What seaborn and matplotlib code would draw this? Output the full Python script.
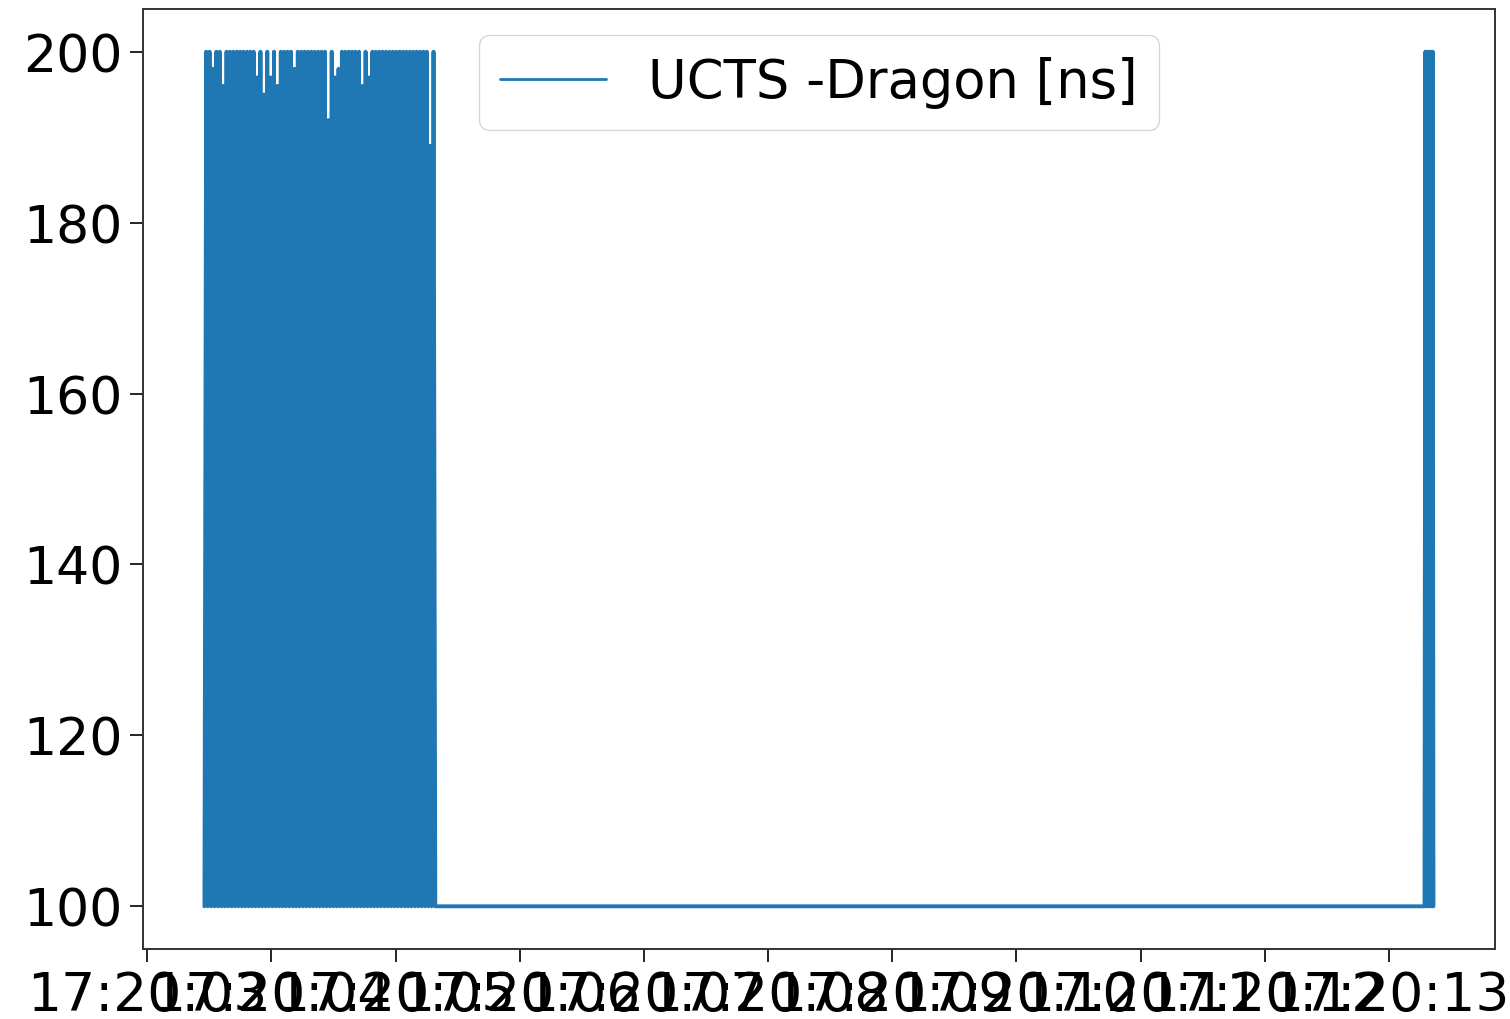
import matplotlib
matplotlib.use("Agg")
import matplotlib.pyplot as plt
import matplotlib.dates as mdates
import seaborn as sns
import pandas as pd

# seconds after 17:20:00, and UCTS - Dragon difference in ns
dense_sec = [
    3.460, 3.474, 3.487, 3.501, 3.515, 3.528, 3.542, 3.556, 3.569, 3.583,
    3.597, 3.610, 3.624, 3.638, 3.651, 3.665, 3.679, 3.692, 3.706, 3.720,
    3.733, 3.747, 3.761, 3.774, 3.788, 3.802, 3.815, 3.829, 3.843, 3.856,
    3.870, 3.884, 3.897, 3.911, 3.925, 3.938, 3.952, 3.966, 3.979, 3.993,
    4.007, 4.020, 4.034, 4.048, 4.061, 4.075, 4.089, 4.102, 4.116, 4.130,
    4.143, 4.157, 4.171, 4.184, 4.198, 4.212, 4.225, 4.239, 4.253, 4.266,
    4.280, 4.294, 4.307, 4.321, 4.335, 4.348, 4.362, 4.376, 4.389, 4.403,
    4.417, 4.430, 4.444, 4.458, 4.471, 4.485, 4.499, 4.512, 4.526, 4.540,
    4.553, 4.567, 4.581, 4.594, 4.608, 4.622, 4.635, 4.649, 4.663, 4.676,
    4.690, 4.704, 4.717, 4.731, 4.745, 4.758, 4.772, 4.786, 4.799, 4.813,
    4.827, 4.840, 4.854, 4.868, 4.881, 4.895, 4.909, 4.922, 4.936, 4.950,
    4.963, 4.977, 4.991, 5.004, 5.018, 5.032, 5.045, 5.059, 5.073, 5.086,
    5.100, 5.114, 5.127, 5.141, 5.155, 5.168, 5.182, 5.196, 5.209, 5.223,
    5.237, 5.250, 5.264, 5.278, 5.291, 5.305, 5.319,
]
dense_ns = [
    100, 200, 100, 200, 100, 198, 100, 200, 100, 200,
    100, 196, 100, 200, 100, 200, 100, 200, 100, 200,
    100, 200, 100, 200, 100, 200, 100, 200, 100, 200,
    100, 197, 100, 200, 100, 195, 100, 200, 100, 197,
    100, 200, 100, 196, 100, 200, 100, 200, 100, 200,
    100, 200, 100, 198, 100, 200, 100, 200, 100, 200,
    100, 200, 100, 200, 100, 200, 100, 200, 100, 200,
    100, 200, 100, 192, 100, 200, 100, 197, 100, 198,
    100, 200, 100, 200, 100, 200, 100, 200, 100, 200,
    100, 200, 100, 196, 100, 200, 100, 197, 100, 200,
    100, 200, 100, 200, 100, 200, 100, 200, 100, 200,
    100, 200, 100, 200, 100, 200, 100, 200, 100, 200,
    100, 200, 100, 200, 100, 200, 100, 200, 100, 200,
    100, 200, 100, 189, 100, 200, 100,
]
tail_sec = [13.286, 13.293, 13.301, 13.308, 13.316, 13.323,
            13.331, 13.338, 13.346, 13.352, 13.358]
tail_ns = [100, 200, 100, 200, 100, 200, 100, 200, 100, 200, 100]

series_label = "UCTS -Dragon [ns]"
t0 = pd.Timestamp("2019-10-10 17:20:00")

df = pd.DataFrame({
    "time": t0 + pd.to_timedelta(dense_sec + tail_sec, unit="s"),
    "delta": dense_ns + tail_ns,
})

sns.set_theme(style="ticks")
plt.rcParams["font.family"] = ["DejaVu Sans"]
plt.rcParams["axes.edgecolor"] = "black"
plt.rcParams["xtick.color"] = "black"
plt.rcParams["ytick.color"] = "black"
plt.rcParams["text.color"] = "black"

fig = plt.figure(figsize=(15.1, 10.2), dpi=100)
ax = fig.add_axes([0.0947, 0.0686, 0.8953, 0.9216])

sns.lineplot(data=df, x="time", y="delta", estimator=None, ax=ax,
             color="#1f77b4", linewidth=2.8, label=series_label)

ax.xaxis.set_major_locator(mdates.SecondLocator(interval=1))
ax.xaxis.set_major_formatter(mdates.DateFormatter("%H:%M:%S"))
ax.set_xlabel("")
ax.set_ylabel("")
ax.tick_params(axis="both", length=9.5, width=1.2, pad=5)
ax.tick_params(axis="x", labelsize=38.5)
ax.tick_params(axis="y", labelsize=37.5)
for s in ax.spines.values():
    s.set_linewidth(1.4)
    s.set_color("#333333")

leg = ax.legend(loc="upper center", fontsize=38)
for h in leg.get_lines():
    h.set_linewidth(2.0)

fig.savefig("out.png", dpi=100)
plt.close(fig)
